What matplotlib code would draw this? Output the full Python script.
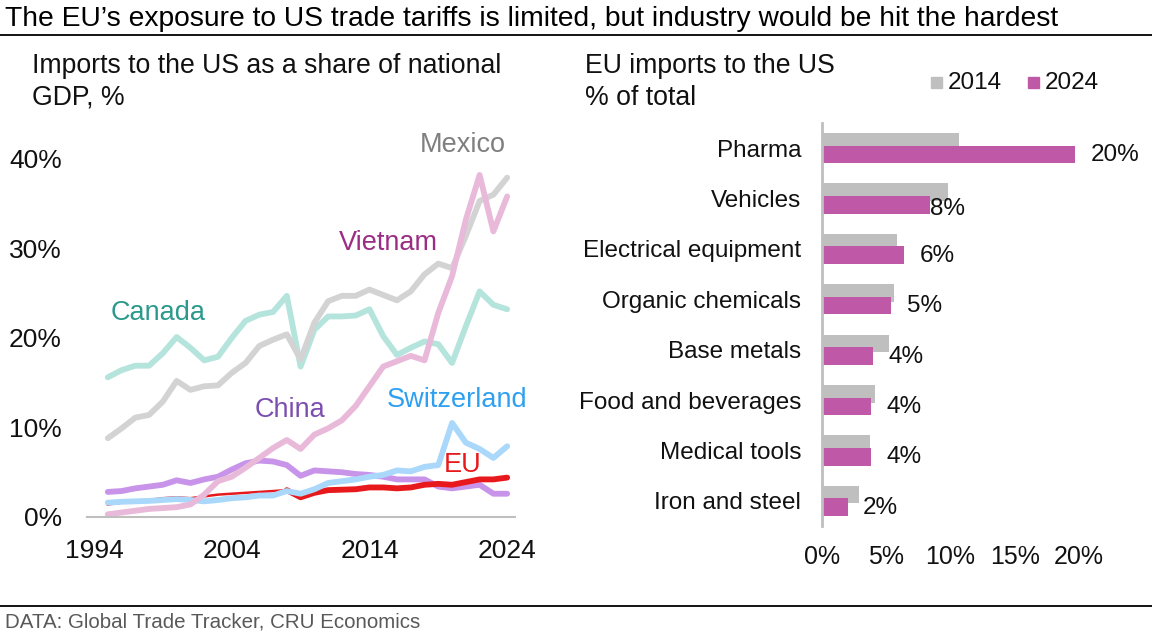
import numpy as np
import matplotlib
matplotlib.use("Agg")
import matplotlib.pyplot as plt
from matplotlib.patches import Rectangle
from matplotlib.lines import Line2D

plt.rcParams['font.family'] = ['Liberation Sans', 'DejaVu Sans']

# --- Left chart data: imports to the US as % of national GDP ---
years = list(range(1995, 2025))
canada = [15.6, 16.4, 16.9, 16.9, 18.3, 20.1, 18.9, 17.5, 17.9, 20.0,
          21.9, 22.6, 22.9, 24.7, 16.8, 20.9, 22.4, 22.4, 22.5, 23.2,
          20.2, 18.1, 18.9, 19.6, 19.3, 17.2, 21.3, 25.2, 23.7, 23.2]
mexico = [8.8, 9.9, 11.1, 11.4, 12.9, 15.2, 14.2, 14.6, 14.7, 16.1,
          17.2, 19.1, 19.8, 20.4, 17.6, 21.7, 24.1, 24.7, 24.7, 25.4,
          24.8, 24.2, 25.2, 27.1, 28.3, 27.8, 31.4, 35.3, 36.0, 37.9]
vietnam = [0.3, 0.5, 0.7, 0.9, 1.0, 1.1, 1.4, 2.5, 4.0, 4.5,
           5.5, 6.6, 7.7, 8.6, 7.6, 9.2, 9.9, 10.8, 12.4, 14.6,
           16.8, 17.4, 18.0, 17.5, 22.8, 26.9, 33.2, 38.2, 31.9, 35.8]
china = [2.8, 2.9, 3.2, 3.4, 3.6, 4.1, 3.8, 4.2, 4.5, 5.3,
         6.0, 6.3, 6.2, 5.8, 4.6, 5.2, 5.1, 5.0, 4.8, 4.7,
         4.5, 4.2, 4.2, 4.2, 3.4, 3.2, 3.4, 3.6, 2.6, 2.6]
switzerland = [1.6, 1.7, 1.75, 1.8, 1.9, 2.0, 1.9, 1.75, 1.9, 2.1,
               2.2, 2.4, 2.4, 2.9, 2.6, 3.1, 3.8, 4.0, 4.2, 4.5,
               4.7, 5.2, 5.1, 5.6, 5.8, 10.5, 8.3, 7.6, 6.6, 7.9]
eu = [1.4, 1.6, 1.75, 1.9, 2.1, 2.2, 2.1, 2.3, 2.5, 2.6,
      2.7, 2.8, 2.9, 3.0, 2.2, 2.7, 3.0, 3.05, 3.1, 3.3,
      3.3, 3.2, 3.3, 3.6, 3.7, 3.6, 3.9, 4.2, 4.2, 4.4]
year_ticks = [1994, 2004, 2014, 2024]
pct_ticks = [0, 10, 20, 30, 40]

# --- Right chart data: EU imports to the US, % of total ---
sectors = ["Pharma", "Vehicles", "Electrical equipment", "Organic chemicals",
           "Base metals", "Food and beverages", "Medical tools", "Iron and steel"]
share_2014 = [10.7, 9.8, 5.8, 5.6, 5.2, 4.1, 3.7, 2.9]
share_2024 = [19.7, 8.4, 6.4, 5.4, 4.0, 3.8, 3.8, 2.0]
bar_ticks = [0, 5, 10, 15, 20]

W, H = 1152, 636
fig = plt.figure(figsize=(W / 100, H / 100), dpi=100)
txt = '#111111'
c14, c24 = '#bfbfbf', '#c058a8'


def fy(px):
    return 1 - px / H


# title + rules + source
fig.text(5 / W, fy(26), "The EU\u2019s exposure to US trade tariffs is limited, but industry would be hit the hardest",
         fontsize=20.3, va='baseline', ha='left', color='black')
fig.add_artist(Line2D([0, 1], [fy(35), fy(35)], color='black', lw=1.3, transform=fig.transFigure))
fig.add_artist(Line2D([0, 1], [fy(606), fy(606)], color='black', lw=1.3, transform=fig.transFigure))
fig.text(5 / W, fy(622), "DATA: Global Trade Tracker, CRU Economics",
         fontsize=14.8, va='center', ha='left', color='#595959')

# subtitles
fig.text(32 / W, fy(73), "Imports to the US as a share of national", fontsize=19.2, va='baseline', color=txt)
fig.text(32 / W, fy(105), "GDP, %", fontsize=19.2, va='baseline', color=txt)
fig.text(585 / W, fy(73), "EU imports to the US", fontsize=19.2, va='baseline', color=txt)
fig.text(585 / W, fy(105), "% of total", fontsize=19.2, va='baseline', color=txt)

# legend for bar chart
for x0, col, lab in [(931, c14, '2014'), (1028, c24, '2024')]:
    fig.add_artist(Rectangle((x0 / W, fy(88)), 11 / W, 11 / H, color=col, transform=fig.transFigure))
    fig.text((x0 + 17) / W, fy(89), lab, fontsize=17.5, va='baseline', ha='left', color=txt)

# --- Left: line chart ---
ax = fig.add_axes([87 / W, (H - 517) / H, 428 / W, 385 / H])
lw = 4.2
ax.plot(years, china, color='#c894ea', lw=lw, solid_joinstyle='round', solid_capstyle='round')
ax.plot(years, eu, color='#e8191c', lw=1.8, solid_joinstyle='round')
ax.plot(years[13:], eu[13:], color='#e8191c', lw=lw, solid_joinstyle='round', solid_capstyle='round')
ax.plot(years, switzerland, color='#a9d8fb', lw=lw, solid_joinstyle='round', solid_capstyle='round')
ax.plot(years, canada, color='#b5e4dd', lw=lw, solid_joinstyle='round', solid_capstyle='round')
ax.plot(years, mexico, color='#d3d3d3', lw=lw, solid_joinstyle='round', solid_capstyle='round')
ax.plot(years, vietnam, color='#e9b9da', lw=lw, solid_joinstyle='round', solid_capstyle='round')

series_labels = [('Mexico', '#7f7f7f', 2020.8, 41.6), ('Canada', '#2b9a8c', 1998.65, 22.8),
                 ('Vietnam', '#9a2d84', 2015.35, 30.6), ('China', '#7b4fb0', 2008.2, 11.95),
                 ('Switzerland', '#2ea0f0', 2020.35, 13.05), ('EU', '#e8191c', 2020.75, 5.8)]
for name, col, x, y in series_labels:
    ax.text(x, y, name, color=col, fontsize=19.5, ha='center', va='center')

ax.set_xlim(1993.49, 2024.57)
ax.set_ylim(0, 43)
ax.set_xticks(year_ticks)
ax.set_xticklabels([str(y) for y in year_ticks])
ax.set_yticks(pct_ticks)
ax.set_yticklabels([f"{v}%" for v in pct_ticks])
for s in ['top', 'right', 'left']:
    ax.spines[s].set_visible(False)
ax.spines['bottom'].set_color('#bfbfbf')
ax.spines['bottom'].set_linewidth(1.5)
ax.tick_params(axis='both', length=0, labelsize=19, colors=txt)
ax.tick_params(axis='y', pad=18)
ax.tick_params(axis='x', pad=15.5)
ax.patch.set_alpha(0)

# --- Right: bar chart ---
bx = fig.add_axes([822 / W, (H - 526) / H, 257 / W, 403 / H])
ypos = np.arange(len(sectors))
bh = 0.35
bx.barh(ypos - 0.125, share_2014, height=bh, color=c14)
bx.barh(ypos + 0.125, share_2024, height=bh, color=c24)
for name, yy, v in zip(sectors, ypos, share_2024):
    off, dy = (0, 0.2) if name == "Vehicles" else (11, 0.14)
    bx.annotate(f"{v:.0f}%", (v, yy + dy), xytext=(off, 0), textcoords='offset points',
                ha='left', va='center', fontsize=17.5, color=txt, annotation_clip=False)
bx.set_xlim(0, 20)
bx.set_ylim(len(sectors) - 0.5, -0.5)
bx.set_yticks(ypos)
bx.set_yticklabels(sectors)
bx.set_xticks(bar_ticks)
bx.set_xticklabels([f"{v}%" for v in bar_ticks])
for s in ['top', 'right', 'bottom']:
    bx.spines[s].set_visible(False)
bx.spines['left'].set_color('#bfbfbf')
bx.spines['left'].set_linewidth(2)
bx.tick_params(axis='both', length=0, labelsize=17.5, colors=txt)
bx.tick_params(axis='x', labelsize=18, pad=14)
bx.tick_params(axis='y', pad=15)
bx.patch.set_alpha(0)

fig.savefig("out.png", dpi=100)
